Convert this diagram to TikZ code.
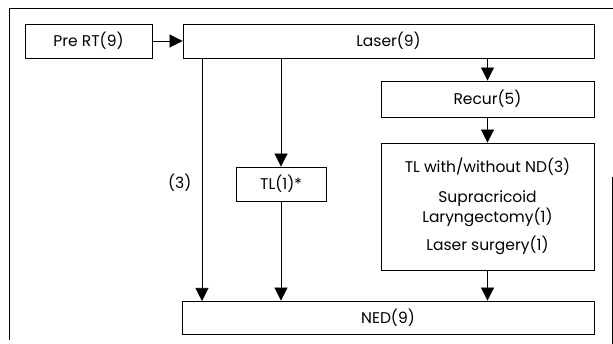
\documentclass[tikz,border=0pt]{standalone}
\usepackage{fontspec}
\setmainfont{Poppins}
\usetikzlibrary{arrows.meta}
\begin{document}
\begin{tikzpicture}[x=1pt,y=-1pt,
  box/.style={draw,line width=0.8pt,inner sep=0pt,font=\fontsize{15.5}{20}\selectfont},
  arr/.style={line width=0.7pt,-{Triangle[length=13pt,width=13pt]}},
  frame/.style={line width=0.8pt}]
\useasboundingbox (0,0) rectangle (613,344);
\draw[frame] (613,8) -- (9,8) -- (9,340);
\draw[frame] (612,177) -- (612,344);
\node[box,minimum width=127pt,minimum height=34pt] (pre) at (88.5,41) {Pre RT(9)};
\node[box,minimum width=411pt,minimum height=34pt] (laser) at (388.5,41) {Laser(9)};
\node[box,minimum width=213pt,minimum height=36pt] (recur) at (487.5,99) {Recur(5)};
\node[box,minimum width=213pt,minimum height=127pt,align=center] (surg) at (487.5,206.5)
  {TL with/without ND(3)\\[10pt] Supracricoid\\ Laryngectomy(1)\\[8pt] Laser surgery(1)};
\node[box,minimum width=90pt,minimum height=34pt] (tl) at (281,184) {TL(1)*};
\node[box,minimum width=412pt,minimum height=33pt] (ned) at (388,317.5) {NED(9)};
\draw[arr] (pre.east) -- (laser.west);
\draw[arr] (laser.south -| recur.north) -- (recur.north);
\draw[arr] (recur.south) -- (surg.north);
\draw[arr] (laser.south -| tl.north) -- (tl.north);
\draw[arr] (tl.south) -- (tl.south |- ned.north);
\draw[arr] (surg.south) -- (surg.south |- ned.north);
\coordinate (lefttop) at (202,58);
\coordinate (leftbot) at (202,301);
\draw[arr] (lefttop) -- node[left=7pt,font=\fontsize{15.5}{18}\selectfont,yshift=-3pt] (three) {(3)} (leftbot);
\end{tikzpicture}
\end{document}
